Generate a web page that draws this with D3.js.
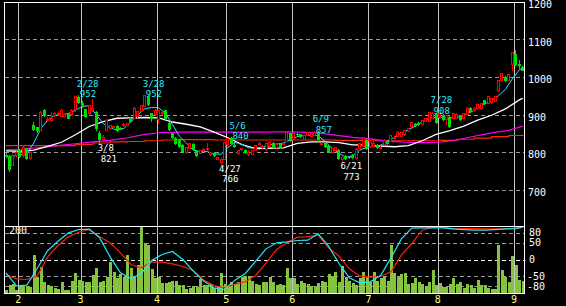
<!DOCTYPE html>
<html>
<head>
<meta charset="utf-8">
<script src="https://cdn.jsdelivr.net/npm/d3@7"></script>
<style>
html, body { margin: 0; padding: 0; background: #000; }
svg { display: block; }
text { font-family: "DejaVu Sans Mono", monospace; font-size: 10px; }
text.mark { font-size: 9px; }
</style>
</head>
<body>
<div id="chart"></div>
<script>
const width = 566,
  height = 306;

// daily prices (one entry per trading day)
const open = [
  793,790,765,790,805,790,810,782,872,866,
  858,913,885,883,898,900,895,896,902,900,
  913,947,932,914,903,912,907,852,833,858,
  864,866,869,864,870,872,892,890,894,909,
  922,948,903,899,888,903,912,878,850,837,
  834,819,798,810,821,803,796,805,806,793,
  797,781,772,780,819,838,818,795,808,806,
  793,793,805,820,812,806,815,824,811,821,
  820,828,850,833,849,847,833,844,841,845,
  850,820,823,816,798,805,805,780,790,788,
  792,782,810,815,832,814,816,819,810,819,
  830,828,835,842,842,846,855,869,876,878,
  873,881,881,890,902,891,900,886,894,890,
  890,898,890,899,917,910,917,915,938,930,
  931,936,963,992,1000,992,1034,1062,1035,1028];
const high = [
  797,792,796,803,808,815,812,803,880,868,
  910,916,893,907,908,906,914,902,905,915,
  950,952,935,916,925,941,909,856,845,888,
  872,870,871,866,877,878,894,920,910,925,
  952,951,905,914,913,910,913,880,852,839,
  836,822,814,824,823,805,805,810,823,801,
  799,788,783,828,837,840,824,806,812,809,
  805,806,820,827,818,824,828,826,823,823,
  827,855,852,852,851,849,845,854,848,857,
  855,826,825,818,812,814,807,787,792,790,
  795,811,825,841,834,828,829,821,815,834,
  832,846,842,855,854,860,864,880,878,880,
  886,891,907,908,904,904,902,900,896,904,
  903,900,904,919,919,919,928,932,940,949,
  944,949,993,1011,1002,1008,1067,1072,1045,1030];
const low = [
  785,748,763,788,785,788,778,778,855,850,
  855,893,880,880,893,896,893,893,887,897,
  908,928,918,890,900,908,855,821,828,855,
  860,862,854,858,868,869,879,888,892,906,
  920,923,880,897,876,900,886,857,835,819,
  812,797,796,808,803,788,794,801,804,790,
  787,779,766,778,817,818,812,792,802,795,
  790,791,803,818,808,804,813,809,809,809,
  818,826,828,831,844,838,831,842,839,843,
  828,818,811,798,796,803,779,773,780,782,
  781,780,808,813,806,812,814,809,808,817,
  820,826,833,840,840,844,853,867,868,869,
  871,879,879,888,875,889,883,872,865,888,
  888,884,888,897,905,908,915,913,926,928,
  929,934,960,990,988,990,1016,1030,1022,1015];
const close = [
  790,752,792,800,788,812,782,798,858,857,
  906,896,888,889,902,903,911,899,889,912,
  947,930,921,893,923,915,862,832,840,884,
  870,868,857,860,874,875,881,917,907,923,
  950,925,887,912,911,906,888,859,837,821,
  814,800,812,822,805,790,803,808,810,800,
  789,786,780,826,836,822,814,803,810,797,
  800,805,818,824,815,822,826,811,821,811,
  824,852,830,850,846,840,843,853,846,852,
  832,823,813,800,810,812,781,786,782,784,
  783,808,823,838,808,826,822,811,813,832,
  822,843,840,853,852,857,862,878,870,871,
  884,889,905,903,877,902,885,898,867,902,
  901,886,902,917,907,917,926,930,928,947,
  942,947,991,1009,990,1006,1065,1032,1029,1017];
const volume = [
  10,24,28,10,20,22,20,18,114,49,
  79,34,24,21,14,12,32,9,9,36,
  59,39,36,32,32,54,76,34,36,49,
  94,62,46,56,49,114,76,49,84,199,
  149,144,72,44,49,29,29,34,36,36,
  24,24,12,14,22,19,42,24,24,26,
  16,19,60,26,22,32,26,32,49,52,
  52,36,26,24,32,32,49,32,24,26,
  24,74,46,46,26,36,29,26,22,19,
  29,36,32,56,52,64,34,82,49,36,
  29,24,46,62,49,32,62,36,46,49,
  36,144,59,49,56,59,26,29,46,32,
  26,19,32,69,24,29,19,19,26,44,
  26,32,14,26,24,16,39,24,24,16,
  12,12,144,69,49,32,111,84,39,36];

// months: first bar index and label
const monthStart = [4, 22, 44, 64, 83, 105, 125, 147];
const monthLabels = ["2", "3", "4", "5", "6", "7", "8", "9"];

const maShort = [
  787,789,792,797,824,862,885,898,899,903,
  911,922,923,900,876,864,859,863,880,900,
  915,919,918,903,873,842,824,805,801,801,
  795,794,812,826,820,811,810,814,819,821,
  824,833,841,844,845,844,828,810,797,786,
  790,805,813,815,818,829,840,851,859,869,
  880,890,893,892,891,892,899,906,917,928,
  938,950,967,995,1019,1023]; // every 2
const maMid = [
  803,802,805,815,826,846,868,881,890,891,
  892,891,880,874,867,853,838,820,809,810,
  811,823,827,827,825,819,819,816,814,817,
  830,847,857,869,885,898,915,939,943]; // every 4
const maLong = [
  806,808,812,817,822,827,831,838,847,852,
  853,853,853,853,853,853,854,853,851,845,
  839,835,829,826,825,826,832,842,851,858,869]; // every 5
const maLonger = [
  817,817,817,817,820,824,827,828,830,832,
  833,833,832,832,832,832,832,832,832,831,
  831,830,830,830,830,831,834,837,841,844,847]; // every 5

// oscillator (-100..100), every 3 bars
const oscFast = [
  -40,-79,-77,-27,27,55,80,90,91,65,
  8,-40,-57,-42,-3,15,24,0,-35,-65,
  -85,-90,-62,-42,-5,32,50,53,57,58,
  77,40,-12,-55,-70,-67,-48,5,62,94,
  95,95,95,92,90,88,88,90,92,93,97];
const oscSlow = [
  -45,-58,-60,-50,8,42,68,82,90,68,
  50,20,-15,-25,-8,-8,-13,-21,-33,-62,
  -78,-85,-74,-67,-48,-10,30,50,67,68,
  73,35,10,-28,-50,-53,-51,-37,13,48,
  88,97,97,92,93,93,92,92,92,95,97];

// peak / trough marks
const markBar = [21, 27, 40, 62, 65, 89, 97, 123];
const markDate = ["2/28", "3/8", "3/28", "4/27", "5/6", "6/9", "6/21", "7/28"];
const markPrice = ["952", "821", "952", "766", "840", "857", "773", "908"];
const markHigh = [true, false, true, false, true, true, false, true];

const priceTicks = [1200, 1100, 1000, 900, 800, 700];
const priceGrid = [1100, 1000, 900, 800, 700];
const oscTicks = [80, 50, 0, -50, -80];
const volTopLabel = "200";

const nBars = open.length;

const svg = d3.select("#chart")
  .append("svg")
  .attr("width", width)
  .attr("height", height);

svg.append("rect").attr("width", width).attr("height", height).attr("fill", "#000");

// scales
const x = d3.scaleLinear().domain([0, nBars]).range([4.3, 524.5]);
const cx = i => x(i + 0.5);
const y = d3.scaleLinear().domain([600, 1200]).range([227, 2]);
const yVol = d3.scaleLinear().domain([0, 200]).range([293, 226.3]);
const yOsc = d3.scaleLinear().domain([-100, 100]).range([292.8, 226.2]);
const px = v => Math.round(v) + 0.5;

const left = 4.5, right = 524.5;

// month lines
svg.selectAll(".month")
  .data(monthStart)
  .enter()
  .append("line")
  .attr("x1", d => px(x(d))).attr("x2", d => px(x(d)))
  .attr("y1", 2).attr("y2", 293)
  .attr("stroke", "#c4c4c4")
  .attr("shape-rendering", "crispEdges");

// dashed grids
svg.selectAll(".pgrid")
  .data(priceGrid)
  .enter()
  .append("line")
  .attr("x1", left).attr("x2", right)
  .attr("y1", d => px(y(d))).attr("y2", d => px(y(d)))
  .attr("stroke", "#9a9a9a")
  .attr("stroke-dasharray", "4,3")
  .attr("shape-rendering", "crispEdges");

svg.selectAll(".ogrid")
  .data(oscTicks)
  .enter()
  .append("line")
  .attr("x1", left).attr("x2", right)
  .attr("y1", d => px(yOsc(d))).attr("y2", d => px(yOsc(d)))
  .attr("stroke", d => d === 0 ? "#ffffff" : "#9a9a9a")
  .attr("stroke-dasharray", "4,3")
  .attr("shape-rendering", "crispEdges");

// volume
svg.selectAll(".vol")
  .data(volume)
  .enter()
  .append("rect")
  .attr("x", (d, i) => Math.round(cx(i)) - 1)
  .attr("width", 3)
  .attr("y", d => yVol(d))
  .attr("height", d => 293 - yVol(d))
  .attr("fill", "#86c440")
  .attr("shape-rendering", "crispEdges");

// oscillator lines
const oscLine = d3.line()
  .x((d, k) => cx(Math.min(k * 3, nBars - 1)))
  .y(d => yOsc(d));

svg.append("path").datum(oscSlow)
  .attr("d", oscLine)
  .attr("fill", "none").attr("stroke", "#ff2000").attr("stroke-width", 1.2);
svg.append("path").datum(oscFast)
  .attr("d", oscLine)
  .attr("fill", "none").attr("stroke", "#20e8ff").attr("stroke-width", 1.2);

// frame
const frame = svg.append("g")
  .attr("stroke", "#fff")
  .attr("shape-rendering", "crispEdges");
frame.append("line").attr("x1", left).attr("x2", right).attr("y1", 2.5).attr("y2", 2.5);
frame.append("line").attr("x1", left).attr("x2", right).attr("y1", 226.5).attr("y2", 226.5);
frame.append("line").attr("x1", left).attr("x2", right).attr("y1", 293.5).attr("y2", 293.5);
frame.append("line").attr("x1", left).attr("x2", left).attr("y1", 2).attr("y2", 294);
frame.append("line").attr("x1", right).attr("x2", right).attr("y1", 2).attr("y2", 294);

// moving averages
const maLine = step => d3.line()
  .x((d, k) => cx(Math.min(k * step, nBars - 1)))
  .y(d => y(d));

svg.append("path").datum(maLonger)
  .attr("d", maLine(5).curve(d3.curveStepAfter))
  .attr("fill", "none").attr("stroke", "#ff2a00").attr("stroke-width", 1.2);
svg.append("path").datum(maLong)
  .attr("d", maLine(5))
  .attr("fill", "none").attr("stroke", "#ff00ff").attr("stroke-width", 1.2);
svg.append("path").datum(maMid)
  .attr("d", maLine(4))
  .attr("fill", "none").attr("stroke", "#ffffff").attr("stroke-width", 1.3);
svg.append("path").datum(maShort)
  .attr("d", maLine(2))
  .attr("fill", "none").attr("stroke", "#30e0ff").attr("stroke-width", 1);

// candles
const up = i => close[i] >= open[i];
const candles = svg.selectAll(".candle")
  .data(d3.range(nBars))
  .enter()
  .append("g")
  .attr("shape-rendering", "crispEdges");

candles.append("line")
  .attr("x1", i => px(cx(i) - 0.5)).attr("x2", i => px(cx(i) - 0.5))
  .attr("y1", i => y(high[i])).attr("y2", i => y(low[i]))
  .attr("stroke", i => up(i) ? "#ff0000" : "#00dd00");

candles.append("rect")
  .attr("x", i => up(i) ? Math.round(cx(i) - 0.5) - 0.5 : Math.round(cx(i) - 0.5) - 1)
  .attr("width", i => up(i) ? 2 : 3)
  .attr("y", i => y(Math.max(open[i], close[i])))
  .attr("height", i => Math.max(1, Math.abs(y(open[i]) - y(close[i]))))
  .attr("fill", i => up(i) ? "#000" : "#00dd00")
  .attr("stroke", i => up(i) ? "#ff0000" : "none");

// peak / trough labels
const marks = svg.selectAll(".mark")
  .data(markBar)
  .enter()
  .append("g")
  .attr("fill", (d, k) => markHigh[k] ? "#30e8ff" : "#ffffff");

marks.append("text")
  .attr("class", "mark")
  .attr("x", d => cx(d) - 2)
  .attr("y", (d, k) => markHigh[k] ? y(high[d]) - 8.5 : y(low[d]) + 7)
  .text((d, k) => markDate[k]);
marks.append("text")
  .attr("class", "mark")
  .attr("x", d => cx(d) + 1)
  .attr("y", (d, k) => markHigh[k] ? y(high[d]) + 2 : y(low[d]) + 17.5)
  .text((d, k) => markPrice[k]);

// right axis labels
svg.selectAll(".ptick")
  .data(priceTicks)
  .enter()
  .append("text")
  .attr("x", 528)
  .attr("y", d => y(d) + 6)
  .attr("fill", "#fff")
  .text(d => d);

svg.selectAll(".otick")
  .data(oscTicks)
  .enter()
  .append("text")
  .attr("x", d => d < 0 ? 527 : 529)
  .attr("y", d => yOsc(d) + 3.6)
  .attr("fill", "#fff")
  .text(d => d);

svg.append("text")
  .attr("x", 9)
  .attr("y", 234.3)
  .attr("fill", "#fff")
  .text(volTopLabel);

// month labels
svg.selectAll(".mlabel")
  .data(monthStart)
  .enter()
  .append("text")
  .attr("x", d => x(d))
  .attr("y", 302.5)
  .attr("text-anchor", "middle")
  .attr("fill", "#ffff80")
  .text((d, k) => monthLabels[k]);
</script>
</body>
</html>
